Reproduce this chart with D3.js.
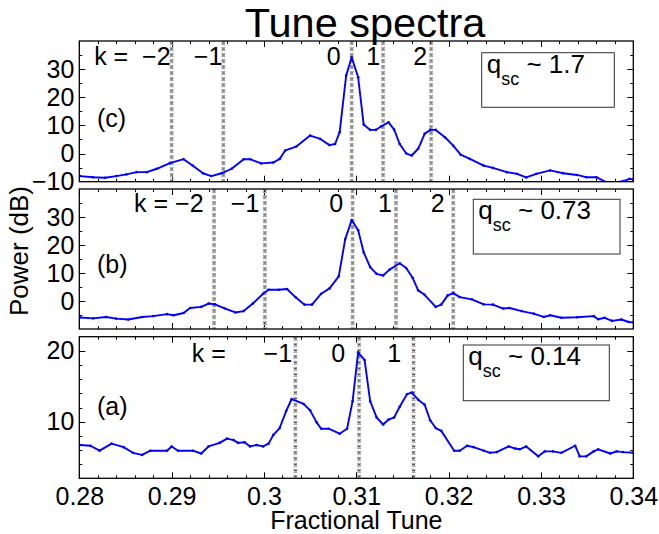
<!DOCTYPE html>
<html><head><meta charset="utf-8">
<script src="https://cdn.jsdelivr.net/npm/d3@7"></script>
<style>
body{margin:0;background:#fff}
text{font-family:"Liberation Sans",Arial,Helvetica,sans-serif;fill:#000}
</style></head>
<body><svg id="chart" width="659" height="534"></svg>
<script>
// ---- Data ----
const tuneC = [0.2801,0.2815,0.2828,0.2840,0.2851,0.2862,0.2873,0.2884,0.2898,0.2913,0.2923,0.2934,0.2943,0.2954,0.2965,0.2978,0.2985,0.2997,0.3010,0.3017,0.3023,0.3035,0.3050,0.3061,0.3071,0.3077,0.3082,0.3089,0.3095,0.3102,0.3108,0.3115,0.3121,0.3127,0.3135,0.3141,0.3147,0.3154,0.3160,0.3167,0.3174,0.3180,0.3186,0.3196,0.3205,0.3213,0.3223,0.3238,0.3248,0.3263,0.3274,0.3284,0.3295,0.3310,0.3324,0.3339,0.3349,0.3360,0.3371,0.3382,0.3389,0.3396,0.3400];
const powerC = [-8.0,-8.4,-8.6,-8.0,-7.4,-6.6,-6.6,-5.4,-3.4,-2.0,-4.3,-7.0,-8.0,-7.0,-5.4,-2.0,-2.0,-3.5,-3.2,-1.9,1.1,2.5,6.4,5.2,3.0,3.4,7.6,27.7,34.2,27.1,10.3,8.4,8.4,9.7,11.1,8.5,3.4,0.1,-0.7,1.7,7.0,8.4,8.4,5.8,2.8,-0.4,-1.9,-4.3,-5.1,-6.6,-7.2,-8.5,-7.2,-6.0,-7.0,-7.6,-8.4,-8.4,-10.2,-10.2,-9.8,-9.0,-9.2];

const tuneB = [0.2801,0.2815,0.2829,0.2840,0.2853,0.2868,0.2880,0.2895,0.2902,0.2913,0.2920,0.2932,0.2940,0.2947,0.2958,0.2969,0.2978,0.2988,0.2999,0.3005,0.3016,0.3025,0.3034,0.3044,0.3052,0.3062,0.3071,0.3081,0.3088,0.3095,0.3102,0.3108,0.3115,0.3122,0.3129,0.3136,0.3147,0.3154,0.3161,0.3167,0.3174,0.3186,0.3192,0.3199,0.3205,0.3212,0.3225,0.3238,0.3248,0.3259,0.3266,0.3279,0.3292,0.3303,0.3310,0.3322,0.3339,0.3357,0.3362,0.3369,0.3377,0.3387,0.3395,0.3400];
const powerB = [-5.9,-6.2,-5.7,-6.3,-6.6,-5.7,-5.4,-4.7,-5.1,-4.3,-2.5,-2.1,-0.9,-1.2,-2.7,-4.1,-3.6,-0.9,2.6,4.0,4.0,4.3,1.4,-1.3,-1.3,2.6,4.5,8.8,22.1,28.9,25.3,17.4,12.1,9.7,9.1,11.2,13.5,11.8,8.3,3.8,2.2,-2.1,-1.3,2.0,2.8,1.4,0.6,-1.2,-1.3,-2.7,-2.5,-3.6,-4.5,-5.7,-5.1,-6.0,-5.8,-5.4,-6.5,-6.0,-7.1,-6.6,-7.5,-7.6];

const tuneA = [0.2801,0.2812,0.2822,0.2835,0.2848,0.2858,0.2868,0.2877,0.2895,0.2900,0.2907,0.2923,0.2932,0.2940,0.2952,0.2960,0.2967,0.2972,0.2979,0.2985,0.2992,0.2999,0.3005,0.3010,0.3017,0.3024,0.3030,0.3043,0.3050,0.3057,0.3062,0.3070,0.3082,0.3090,0.3096,0.3102,0.3109,0.3115,0.3122,0.3129,0.3135,0.3141,0.3147,0.3155,0.3160,0.3167,0.3174,0.3180,0.3186,0.3192,0.3206,0.3212,0.3220,0.3227,0.3238,0.3245,0.3252,0.3265,0.3272,0.3277,0.3284,0.3297,0.3304,0.3313,0.3322,0.3337,0.3342,0.3349,0.3357,0.3362,0.3375,0.3382,0.3389,0.3400];
const powerA = [6.7,6.6,5.9,6.9,6.4,5.6,5.3,5.9,5.9,6.5,5.9,5.9,5.5,6.5,7.0,7.6,7.4,7.0,7.1,6.5,6.7,6.5,6.9,8.1,9.1,11.5,13.2,12.5,11.6,9.9,9.0,9.0,8.3,9.0,12.9,19.8,18.7,12.9,10.6,9.6,10.3,10.6,12.1,13.9,14.1,13.1,12.4,10.2,9.1,8.7,5.9,5.9,6.6,6.4,5.9,5.6,5.7,6.5,6.2,6.1,6.5,5.1,5.8,5.8,5.6,6.6,5.1,5.1,5.8,6.1,5.5,5.8,5.7,5.6];

const modeTuneC = [0.2900,0.2956,0.3095,0.3129,0.3181];
const modeTuneB = [0.2946,0.3001,0.3096,0.3143,0.3205];
const modeTuneA = [0.3034,0.3103,0.3162];
const modeLabelC = ["k =  \u22122","\u22121","0","1","2"];
const modeLabelB = ["k = \u22122","\u22121","0","1","2"];
const modeLabelA = ["\u22121","0","1"];

const qscValues = ["1.7","0.73","0.14"];
const panelNames = ["(c)","(b)","(a)"];
const xTicks = [0.28,0.29,0.30,0.31,0.32,0.33,0.34];
const xTickLabels = ["0.28","0.29","0.3","0.31","0.32","0.33","0.34"];
const yTicksC = [-10,0,10,20,30];
const yTicksB = [0,10,20,30];
const yTicksA = [10,20];

// ---- Layout ----
const svg = d3.select("#chart");
const X0 = 79.3, X1 = 633.3;
const x = d3.scaleLinear().domain([0.28,0.34]).range([X0,X1]);
const xMinor = d3.range(0.28,0.3401,0.002);

const panels = [
  {top:41, bottom:181.7, dom:[-10,40], ticks:yTicksC, major:[-10,0,10,20,30,40], minor:d3.range(-10,40.1,5),
   tune:tuneC, pow:powerC, modes:modeTuneC, mlab:modeLabelC, gaps:[1,1,11,3,4], kBase:65, qsc:qscValues[0],
   box:[481.7,52.7,614.3,107.3], name:panelNames[0], nameBase:127},
  {top:189, bottom:329, dom:[-10,40], ticks:yTicksB, major:[-10,0,10,20,30,40], minor:d3.range(-10,40.1,5),
   tune:tuneB, pow:powerB, modes:modeTuneB, mlab:modeLabelB, gaps:[10.5,5.5,9.5,4,8.5], kBase:211.5, qsc:qscValues[1],
   box:[473.3,199.3,620,254], name:panelNames[1], nameBase:273},
  {top:336.7, bottom:478.3, dom:[2,22], ticks:yTicksA, major:[10,20], minor:d3.range(2,22.1,2),
   tune:tuneA, pow:powerA, modes:modeTuneA, mlab:modeLabelA, gaps:[3.3,14,12.3], kBase:361.5, qsc:qscValues[2],
   box:[463.3,345,609.3,400.7], name:panelNames[2], nameBase:415, kEq:true}
];

const FS = 25;

panels.forEach((p,i)=>{
  const y = d3.scaleLinear().domain(p.dom).range([p.bottom,p.top]);
  const g = svg.append("g");
  const cid = "clip"+i;
  svg.append("defs").append("clipPath").attr("id",cid)
    .append("rect").attr("x",X0).attr("y",p.top).attr("width",X1-X0).attr("height",p.bottom-p.top);

  // minor/major ticks inward, all four sides
  const tickG = g.append("g").attr("stroke","#000").attr("stroke-width",1);
  const drawTicks = (vals, len, isX) => {
    vals.forEach(v=>{
      if(isX){
        const xx = Math.round(x(v))+0.5;
        tickG.append("line").attr("x1",xx).attr("x2",xx).attr("y1",p.bottom).attr("y2",p.bottom-len);
        tickG.append("line").attr("x1",xx).attr("x2",xx).attr("y1",p.top).attr("y2",p.top+len);
      } else {
        const yy = Math.round(y(v))+0.5;
        tickG.append("line").attr("x1",X0).attr("x2",X0+len).attr("y1",yy).attr("y2",yy);
        tickG.append("line").attr("x1",X1).attr("x2",X1-len).attr("y1",yy).attr("y2",yy);
      }
    });
  };
  drawTicks(xMinor, 3, true);
  drawTicks(xTicks, 6, true);
  drawTicks(p.minor.filter(v=>v>p.dom[0]&&v<p.dom[1]), 3, false);
  drawTicks(p.major.filter(v=>v>p.dom[0]&&v<p.dom[1]), 6, false);

  // y tick labels via axis
  const ax = d3.axisLeft(y).tickValues(p.ticks).tickSize(0).tickPadding(5).tickFormat(d=>d<0?"\u2212"+Math.abs(d):d);
  const axG = g.append("g").attr("transform",`translate(${X0},0)`).call(ax);
  axG.select(".domain").remove();
  axG.selectAll("text").style("font-size",FS+"px").style("font-family",'"Liberation Sans",Arial,sans-serif').attr("fill","#000");

  // mode dashed lines
  p.modes.forEach(m=>{
    const xx = x(m);
    g.append("line").attr("x1",xx).attr("x2",xx).attr("y1",p.top).attr("y2",p.bottom)
      .attr("stroke","#aaa").attr("stroke-width",4).attr("stroke-dasharray","1.3,1.7");
    g.append("line").attr("x1",xx).attr("x2",xx).attr("y1",p.top+1.5).attr("y2",p.bottom)
      .attr("stroke","#222").attr("stroke-width",3).attr("stroke-dasharray","1,5");
  });

  // spectrum line
  const pts = p.tune.map((t,j)=>[t,p.pow[j]]);
  const line = d3.line().x(d=>x(d[0])).y(d=>y(d[1]));
  const cg = g.append("g").attr("clip-path",`url(#${cid})`);
  cg.append("path").datum(pts).attr("d",line).attr("fill","none").attr("stroke","#0000ff").attr("stroke-width",1.9).attr("stroke-linejoin","round");
  cg.selectAll("circle").data(pts).join("circle").attr("cx",d=>x(d[0])).attr("cy",d=>y(d[1])).attr("r",1.3).attr("fill","#0000ff");

  // frame
  g.append("rect").attr("x",X0).attr("y",p.top).attr("width",X1-X0).attr("height",p.bottom-p.top)
    .attr("fill","none").attr("stroke","#000").attr("stroke-width",1.3);

  // mode labels
  p.modes.forEach((m,j)=>{
    g.append("text").attr("x",x(m)-p.gaps[j]).attr("y",p.kBase).attr("text-anchor","end")
      .style("font-size",FS+"px").style("white-space","pre").text(p.mlab[j]);
  });
  if(p.kEq){
    g.append("text").attr("x",191.7).attr("y",p.kBase).style("font-size",FS+"px").text("k =");
  }
  // panel name
  g.append("text").attr("x",97).attr("y",p.nameBase).style("font-size",FS+"px").text(p.name);

  // qsc box
  const b = p.box;
  g.append("rect").attr("x",b[0]).attr("y",b[1]).attr("width",b[2]-b[0]).attr("height",b[3]-b[1])
    .attr("fill","#fff").attr("stroke","#333").attr("stroke-width",1);
  const t = g.append("text").attr("x",b[0]+5).attr("y",b[1]+20).style("font-size","26px");
  t.append("tspan").text("q");
  t.append("tspan").attr("dy",12).style("font-size","18px").text("sc");
  t.append("tspan").attr("dy",-12).text(" ~ "+p.qsc);
});

// x tick labels
const bottom = panels[2].bottom;
const xa = d3.axisBottom(x).tickValues(xTicks).tickSize(0).tickPadding(9).tickFormat((d,i)=>xTickLabels[i]);
const xg = svg.append("g").attr("transform",`translate(0,${bottom})`).call(xa);
xg.select(".domain").remove();
xg.selectAll("text").style("font-size",FS+"px").style("font-family",'"Liberation Sans",Arial,sans-serif').attr("fill","#000");

// axis titles
svg.append("text").attr("x",(X0+X1)/2).attr("y",529).attr("text-anchor","middle").style("font-size","25px").text("Fractional Tune");
svg.append("text").attr("transform","translate(28,251) rotate(-90)").attr("text-anchor","middle").style("font-size","26px").text("Power (dB)");
svg.append("text").attr("x",365).attr("y",37).attr("text-anchor","middle").style("font-size","41.5px").text("Tune spectra");
</script></body></html>
